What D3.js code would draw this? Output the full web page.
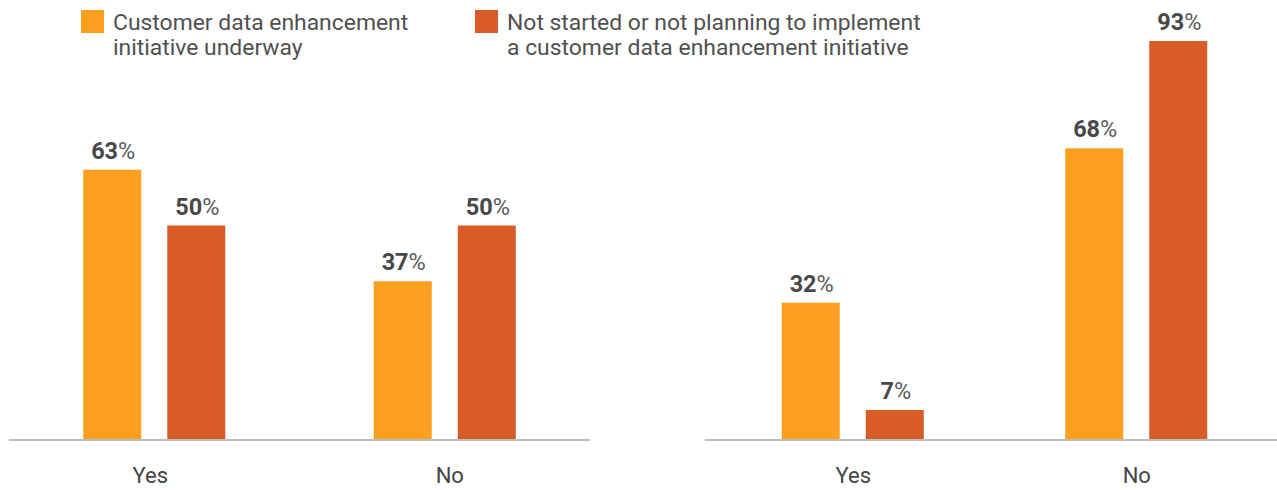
<!DOCTYPE html>
<html>
<head>
<meta charset="utf-8">
<script src="https://cdn.jsdelivr.net/npm/d3@7"></script>
<style>
  html, body { margin: 0; padding: 0; background: #fff; }
  svg { display: block; font-family: Roboto, "Noto Sans", sans-serif; }
</style>
</head>
<body>
<svg id="chart" width="1277" height="490"></svg>
<script>
// Categories on each panel's horizontal axis
const categories = ["Yes", "No"];

// Series (legend order)
const seriesNames = [
  "Customer data enhancement initiative underway",
  "Not started or not planning to implement a customer data enhancement initiative"
];
const legendLines = [
  ["Customer data enhancement", "initiative underway"],
  ["Not started or not planning to implement", "a customer data enhancement initiative"]
];

// Percent values, per panel: [underway, not started] for each category
const leftUnderway = [63, 37];
const leftNotStarted = [50, 50];
const rightUnderway = [32, 68];
const rightNotStarted = [7, 93];

const colors = ["#FD9F1E", "#D95B28"];

const svg = d3.select("#chart");
const baseY = 440;

// Shared vertical scale: 0–100% mapped to pixel heights
const y = d3.scaleLinear().domain([0, 100]).range([baseY, baseY - 429]);

const panels = [
  { range: [9, 590], labelRange: [0, 599], line: [9, 590], values: [leftUnderway, leftNotStarted] },
  { range: [711, 1278], labelRange: [711, 1278], line: [705, 1277], values: [rightUnderway, rightNotStarted] }
];

// Position of the two bars inside a category group
const xInner = d3.scaleBand()
  .domain(seriesNames)
  .range([-71, 71])
  .paddingInner(0.31);

panels.forEach(p => {
  const x = d3.scalePoint().domain(categories).range(p.range).padding(0.5);
  const xLabel = d3.scalePoint().domain(categories).range(p.labelRange).padding(0.5);
  const g = svg.append("g");

  const rows = [];
  categories.forEach((c, ci) => {
    seriesNames.forEach((s, si) => {
      rows.push({ cat: c, series: s, si, value: p.values[si][ci] });
    });
  });

  g.selectAll("rect.bar")
    .data(rows)
    .join("rect")
    .attr("class", "bar")
    .attr("x", d => x(d.cat) + xInner(d.series))
    .attr("width", xInner.bandwidth())
    .attr("y", d => y(d.value))
    .attr("height", d => baseY - y(d.value))
    .attr("fill", d => colors[d.si]);

  // Value labels: bold number, lighter percent sign
  const lbl = g.selectAll("text.val")
    .data(rows)
    .join("text")
    .attr("class", "val")
    .attr("x", d => x(d.cat) + xInner(d.series) + xInner.bandwidth() / 2 + 1)
    .attr("y", d => y(d.value) - 11)
    .attr("text-anchor", "middle")
    .attr("font-size", 23.5)
    .attr("fill", "#484848");
  lbl.append("tspan").attr("font-weight", 700).text(d => d.value);
  lbl.append("tspan").attr("font-weight", 400).attr("fill", "#5a5a5a").text("%");

  // Baseline axis
  g.append("line")
    .attr("x1", p.line[0]).attr("x2", p.line[1])
    .attr("y1", baseY).attr("y2", baseY)
    .attr("stroke", "#bdbdbd")
    .attr("stroke-width", 2);

  // Category labels via a bottom axis without ticks or domain
  const axis = g.append("g")
    .attr("transform", `translate(0,${baseY})`)
    .call(d3.axisBottom(xLabel).tickSize(0).tickPadding(0));
  axis.select(".domain").remove();
  axis.selectAll("text")
    .attr("y", 43)
    .attr("dy", 0)
    .attr("font-family", "Roboto, sans-serif")
    .attr("font-size", 22)
    .attr("fill", "#444");
});

// Legend
const legendX = [81, 475];
const legend = svg.append("g");
seriesNames.forEach((s, i) => {
  const lg = legend.append("g").attr("transform", `translate(${legendX[i]},0)`);
  lg.append("rect")
    .attr("x", 0).attr("y", 10)
    .attr("width", 23).attr("height", 23)
    .attr("fill", colors[i]);
  legendLines[i].forEach((t, li) => {
    lg.append("text")
      .attr("x", 32)
      .attr("y", 30 + li * 25)
      .attr("font-size", 22.9)
      .attr("fill", "#505050")
      .text(t);
  });
});
</script>
</body>
</html>
